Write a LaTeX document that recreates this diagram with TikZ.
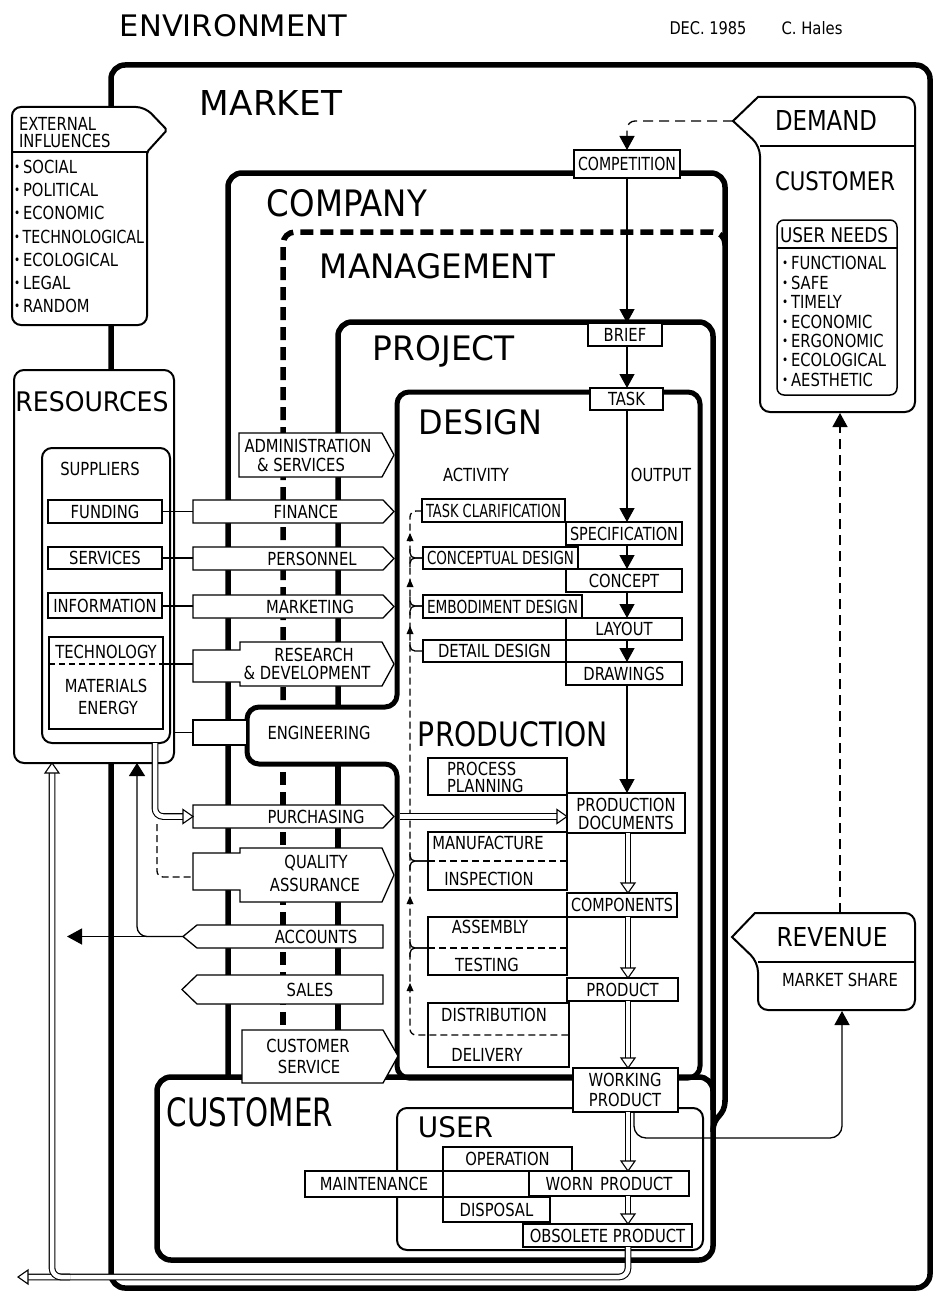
\documentclass[tikz,border=0pt]{standalone}
\usepackage{graphicx}
\usepackage{fontspec}
\setmainfont{DejaVu Sans}
\newfontfamily\condf[FakeStretch=0.82]{DejaVu Sans}
\usetikzlibrary{arrows.meta}
\newcommand\T[3]{\resizebox{#1pt}{#2pt}{#3}}
\newcommand\fitw[2]{\sbox0{#2}\ifdim\wd0>#1pt\relax\resizebox{#1pt}{\height}{#2}\else\usebox0\fi}
\newcommand\lblfont{\condf\fontsize{18}{20}\selectfont}
\newcommand\bul{\raisebox{2.5pt}{\scalebox{0.7}{\textbullet}}\hspace{3pt}}
\newcommand\bx[7][]{\pgfmathsetmacro\bxw{(#5)-(#3)-8}\node[bxs,minimum width={(#5)-(#3)},minimum height={(#6)-(#4)},#1] (#2) at ({((#3)+(#5))/2},{((#4)+(#6))/2}) {\fitw{\bxw}{#7}};}
\tikzset{
 bxs/.style={draw, line width=1.3pt, fill=white, inner sep=0pt, outer sep=0pt, font=\lblfont, text height=13pt, text depth=0pt},
 lbl/.style={inner sep=0pt, outer sep=0pt, font=\lblfont, text height=13pt, text depth=0pt},
 ttl/.style={inner sep=0pt, outer sep=0pt},
 heavy/.style={line width=5.5pt},
 med/.style={line width=2pt},
 tl/.style={line width=1.3pt},
 fshape/.style={draw, line width=1.3pt, fill=white},
 farrow/.style={-{Triangle[width=15pt,length=14pt]}},
 hollow/.style={line width=1.1pt, double, double distance=4.5pt},
 hd/.pic={\draw[line width=1.1pt, fill=white] (-7,-10) -- (0,0) -- (7,-10) -- cycle;},
 hu/.pic={\draw[line width=1.1pt, fill=white] (-7,10) -- (0,0) -- (7,10) -- cycle;},
 hr/.pic={\draw[line width=1.1pt, fill=white] (-10,-7) -- (0,0) -- (-10,7) -- cycle;},
 hl/.pic={\draw[line width=1.1pt, fill=white] (10,-7) -- (0,0) -- (10,7) -- cycle;},
}
\begin{document}
\begin{tikzpicture}[x=1pt,y=-1pt]
\useasboundingbox (0,0) rectangle (935,1295);
\fill[white] (0,0) rectangle (935,1295);

% ---------- titles
\node[ttl] (env) at (233.5,26) {\T{227}{22}{ENVIRONMENT}};
\node[ttl] (dec) at (708,28.5) {\T{77}{13}{DEC. 1985}};
\node[ttl] (hales) at (812,28.5) {\T{61}{13}{C. Hales}};

% ---------- market
\draw[heavy, rounded corners=14] (111,65) rectangle (930,1288);
\node[ttl] (market) at (271,102.5) {\T{142}{25}{MARKET}};

% ---------- company / management / project
\draw[heavy, rounded corners=14] (228,1077) -- (228,173) -- (725,173) -- (725,1102);
\draw[heavy] (725,1100) .. controls (725,1118) and (713,1114) .. (713,1132);
\draw[heavy, dash pattern=on 13pt off 7pt, rounded corners=12] (283,700) -- (283,232) -- (725,232) -- (725,248);
\draw[heavy, dash pattern=on 13pt off 7pt] (283,772) -- (283,1030);
\draw[heavy, rounded corners=14] (338,707) -- (338,322) -- (713,322) -- (713,1110);
\draw[heavy] (338,764) -- (338,1030);
\node[ttl] (company) at (347,203) {\T{160}{27}{COMPANY}};
\node[ttl] (mgmt) at (437.5,266) {\T{235}{25}{MANAGEMENT}};
\node[ttl] (project) at (444,351) {\T{142}{25}{PROJECT}};

% ---------- design / production
\fill[white] (250,710) rectangle (395,761);
\draw[line width=5pt, rounded corners=12] (590,392) -- (397,392) -- (397,707) -- (247,707) -- (247,764) -- (397,764) -- (397,1078) -- (700,1078) -- (700,392) -- (663,392);
\node[ttl] (design) at (480.5,422.5) {\T{123}{25}{DESIGN}};
\node[ttl] (production) at (513,734.5) {\T{190}{25}{PRODUCTION}};

% ---------- customer / user
\draw[heavy, rounded corners=14] (157,1077) rectangle (713,1260);
\node[ttl] (customer) at (250,1112.5) {\T{166}{29}{CUSTOMER}};
\draw[med, rounded corners=10] (397,1108) rectangle (703,1250);
\node[ttl] (user) at (455.5,1127.5) {\T{75}{21}{USER}};

% ---------- external influences
\draw[med, fill=white] (12,200) [rounded corners=9] -- (12,107) -- (145,107) [rounded corners=2] -- (167,130) -- (147,152) [rounded corners=9] -- (147,325) -- (12,325) -- cycle;
\draw[med] (12,152) -- (147,152);
\node[lbl, anchor=west] (ext1) at (19,124) {EXTERNAL};
\node[lbl, anchor=west] (ext2) at (19,141) {INFLUENCES};
\node[lbl, anchor=west] (ei1) at (14,167) {\bul SOCIAL};
\node[lbl, anchor=west] (ei2) at (14,190) {\bul POLITICAL};
\node[lbl, anchor=west] (ei3) at (14,213) {\bul ECONOMIC};
\node[lbl, anchor=west] (ei4) at (14,237) {\fitw{130}{\bul TECHNOLOGICAL}};
\node[lbl, anchor=west] (ei5) at (14,260) {\bul ECOLOGICAL};
\node[lbl, anchor=west] (ei6) at (14,283) {\bul LEGAL};
\node[lbl, anchor=west] (ei7) at (14,306) {\bul RANDOM};

% ---------- resources
\bx[med, rounded corners=10]{res}{14}{370}{174}{763}{}
\node[ttl] (resT) at (92,402) {\T{153}{20}{RESOURCES}};
\bx[med, rounded corners=10]{sup}{42}{448}{170}{743}{}
\node[lbl] (supT) at (100,469) {SUPPLIERS};
\bx{fund}{48}{500}{162}{523}{FUNDING}
\bx{serv}{48}{547}{162}{569}{SERVICES}
\bx{info}{48}{593}{162}{618}{INFORMATION}
\bx{tech}{49}{637}{163}{729}{}
\draw[tl, dash pattern=on 6pt off 4pt] (49,664) -- (163,664);
\node[lbl] (techT) at (106,652) {TECHNOLOGY};
\node[lbl] (matT) at (106,686) {MATERIALS};
\node[lbl] (enT) at (108,708) {ENERGY};

% ---------- function boxes
\draw[fshape] (239,433) -- (382,433) -- (394,455) -- (382,477) -- (239,477) -- cycle;
\node[lbl] (tAd1) at (308,446) {ADMINISTRATION};
\node[lbl] (tAd2) at (301,465) {\& SERVICES};
\draw[fshape] (193,500) -- (383,500) -- (394,511.5) -- (383,523) -- (193,523) -- cycle;
\node[lbl] (tFin) at (306,512) {FINANCE};
\draw[fshape] (193,547) -- (383,547) -- (394,558.5) -- (383,570) -- (193,570) -- cycle;
\node[lbl] (tPer) at (312,558.5) {PERSONNEL};
\draw[fshape] (193,595) -- (383,595) -- (394,606.5) -- (383,618) -- (193,618) -- cycle;
\node[lbl] (tMkt) at (310,606.5) {MARKETING};
\draw[fshape] (193,650) -- (240,650) -- (240,642) -- (382,642) -- (394,664) -- (382,686) -- (240,686) -- (240,682) -- (193,682) -- cycle;
\node[lbl] (tRD1) at (314,655) {RESEARCH};
\node[lbl] (tRD2) at (307,673) {\fitw{130}{\& DEVELOPMENT}};
\bx{engS}{193}{720}{247}{745}{}
\node[lbl] (tEng) at (319,733) {ENGINEERING};
\draw[fshape] (193,805) -- (383,805) -- (394,816.5) -- (383,828) -- (193,828) -- cycle;
\node[lbl] (tPur) at (316,816.5) {PURCHASING};
\draw[fshape] (193,853) -- (240,853) -- (240,848) -- (382,848) -- (394,875) -- (382,902) -- (240,902) -- (240,890) -- (193,890) -- cycle;
\node[lbl] (tQA1) at (316,862) {QUALITY};
\node[lbl] (tQA2) at (315,885) {ASSURANCE};
\draw[fshape] (197,925) -- (383,925) -- (383,948) -- (197,948) -- (183,936.5) -- cycle;
\node[lbl] (tAcc) at (316,937) {ACCOUNTS};
\draw[fshape] (197,975) -- (383,975) -- (383,1004) -- (197,1004) -- (182,989.5) -- cycle;
\node[lbl] (tSal) at (310,989.5) {SALES};
\draw[fshape] (242,1030) -- (383,1030) -- (398,1056) -- (383,1083) -- (242,1083) -- cycle;
\node[lbl] (tCS1) at (308,1046) {CUSTOMER};
\node[lbl] (tCS2) at (309,1067) {SERVICE};

% ---------- supplier connectors
\coordinate (finL) at (193,511.5);
\coordinate (perL) at (193,558);
\coordinate (mktL) at (193,606);
\coordinate (rdL) at (193,664);
\draw[tl] (fund.east) -- (finL);
\draw[tl] (serv.east) -- (perL);
\draw[tl] (info.east |- mktL) -- (mktL);
\draw[tl] (tech.east |- rdL) -- (rdL);
\draw[tl] (res.east |- engS.west) -- (engS.west);

% ---------- top boxes and flow
\coordinate (fx) at (627,0);
\coordinate (hx) at (628,0);
\bx{comp}{574}{150}{680}{178}{COMPETITION}
\bx{brief}{588}{323}{662}{346}{BRIEF}
\bx{task}{590}{388}{663}{410}{TASK}
\node[lbl] (tAct) at (476,475) {ACTIVITY};
\node[lbl] (tOut) at (661,475) {OUTPUT};

% design activities / outputs
\bx{tc}{422}{499}{565}{522}{TASK CLARIFICATION}
\bx{spec}{566}{522}{682}{545}{SPECIFICATION}
\bx{cd}{423}{547}{578}{569}{CONCEPTUAL DESIGN}
\bx{conc}{566}{569}{682}{592}{CONCEPT}
\bx{ed}{423}{595}{582}{618}{EMBODIMENT DESIGN}
\bx{lay}{566}{618}{682}{640}{LAYOUT}
\bx{dd}{423}{640}{566}{662}{DETAIL DESIGN}
\bx{drw}{566}{662}{682}{685}{DRAWINGS}

% production
\bx{pp}{428}{758}{567}{795}{}
\node[lbl, anchor=west] (tPP1) at (447,769) {PROCESS};
\node[lbl, anchor=west] (tPP2) at (447,786) {PLANNING};
\bx{pd}{567}{793}{685}{833}{}
\node[lbl] (tPD1) at (626,805) {PRODUCTION};
\node[lbl] (tPD2) at (626,823) {DOCUMENTS};
\bx{mi}{428}{832}{567}{890}{}
\node[lbl] (tMI1) at (488,843) {MANUFACTURE};
\node[lbl] (tMI2) at (489,879) {INSPECTION};
\bx{cmp}{567}{893}{677}{917}{COMPONENTS}
\bx{at}{428}{917}{567}{975}{}
\node[lbl] (tAT1) at (490,927) {ASSEMBLY};
\node[lbl] (tAT2) at (487,965) {TESTING};
\bx{prod}{567}{978}{678}{1001}{PRODUCT}
\bx{dist}{428}{1003}{569}{1067}{}
\node[lbl] (tDi1) at (494,1015) {DISTRIBUTION};
\node[lbl] (tDi2) at (487,1055) {DELIVERY};
\bx{wp}{573}{1068}{678}{1112}{}
\node[lbl] (tWP1) at (625,1080) {WORKING};
\node[lbl] (tWP2) at (625,1100) {PRODUCT};

% user
\bx{op}{443}{1147}{572}{1171}{OPERATION}
\bx{mnt}{305}{1171}{443}{1197}{MAINTENANCE}
\bx{wrn}{529}{1171}{689}{1196}{WORN\hspace{7pt}PRODUCT}
\bx{dsp}{443}{1197}{550}{1222}{DISPOSAL}
\bx{obs}{523}{1224}{692}{1247}{OBSOLETE PRODUCT}

% feedback loop (dashed)
\draw[tl, dash pattern=on 7pt off 4pt, rounded corners=6] (422,511) -- (410,511) -- (410,1035) -- (569,1035);
\foreach \yy/\xe in {558/423,606/423,861/428,948/428}{
  \draw[tl, rounded corners=5] (410,\yy-9) -- (410,\yy) -- (\xe,\yy);
  \draw[tl, rounded corners=5] (410,\yy+9) -- (410,\yy) -- (\xe,\yy);
}
\draw[tl, rounded corners=5] (410,642) -- (410,651) -- (423,651);
\draw[tl, dash pattern=on 7pt off 4pt] (428,861) -- (567,861);
\draw[tl, dash pattern=on 7pt off 4pt] (428,948) -- (567,948);
\foreach \yy in {537,583,630,900,987}{
  \fill (406.5,\yy+4) -- (410,\yy-4) -- (413.5,\yy+4) -- cycle;
}

% main flow arrows
\coordinate (demT) at (733,121);
\draw[tl, dash pattern=on 10pt off 6pt, rounded corners=8, farrow] (demT) -- (demT -| fx) -- (comp.north -| fx);
\draw[tl, farrow] (comp.south -| fx) -- (brief.north -| fx);
\draw[tl, farrow] (brief.south -| fx) -- (task.north -| fx);
\draw[tl, farrow] (task.south -| fx) -- (spec.north -| fx);
\draw[tl, farrow] (spec.south -| fx) -- (conc.north -| fx);
\draw[tl, farrow] (conc.south -| fx) -- (lay.north -| fx);
\draw[tl, farrow] (lay.south -| fx) -- (drw.north -| fx);
\draw[tl, farrow] (drw.south -| fx) -- (pd.north -| fx);

% hollow flows
\draw[hollow, shorten >=9pt] (pd.south -| hx) -- (cmp.north -| hx); \pic at (cmp.north -| hx) {hd};
\draw[hollow, shorten >=9pt] (cmp.south -| hx) -- (prod.north -| hx); \pic at (prod.north -| hx) {hd};
\draw[hollow, shorten >=9pt] (prod.south -| hx) -- (wp.north -| hx); \pic at (wp.north -| hx) {hd};
\draw[hollow, shorten >=9pt] (wp.south -| hx) -- (wrn.north -| hx); \pic at (wrn.north -| hx) {hd};
\draw[hollow, shorten >=9pt] (wrn.south -| hx) -- (obs.north -| hx); \pic at (obs.north -| hx) {hd};
\coordinate (purT) at (394,816.5);
\draw[hollow, shorten <=6pt, shorten >=9pt] (purT) -- (purT -| pd.west); \pic at (purT -| pd.west) {hr};
\coordinate (outL) at (18,1277);
\coordinate (xh) at (52,0);
\draw[hollow, rounded corners=9, shorten >=9pt] (obs.south -| hx) -- (outL -| hx) -- (outL); \pic at (outL) {hl};
\draw[hollow, rounded corners=9, shorten <=9pt] (xh |- res.south) -- (xh |- outL) -- ++(18,0); \pic at (xh |- res.south) {hu};
\coordinate (xs) at (155,0);
\coordinate (purL) at (193,816.5);
\draw[hollow, rounded corners=8, shorten >=9pt] (xs |- sup.south) -- (xs |- purL) -- (purL); \pic at (purL) {hr};
\coordinate (qaL) at (193,877);
\coordinate (xq) at (157,0);
\draw[tl, dash pattern=on 7pt off 4pt, rounded corners=6] (157,824) -- (xq |- qaL) -- (qaL);

% accounts arrows
\coordinate (accT) at (183,936.5);
\coordinate (accE) at (67,936.5);
\coordinate (xa) at (137,0);
\draw[tl, -{Triangle[width=16pt,length=15pt]}] (accT) -- (accE);
\draw[tl, rounded corners=10, -{Triangle[width=16pt,length=13pt]}] (accT) -- (accT -| xa) -- (xa |- res.south);

% ---------- right side: demand / customer
\draw[med, fill=white] (733,121) -- (758,97) [rounded corners=10] -- (915,97) -- (915,412) -- (760,412) -- (760,146) [sharp corners] -- cycle;
\draw[med] (760,146) -- (915,146);
\node[ttl] (demand) at (826,120) {\T{102}{20}{DEMAND}};
\node[ttl] (custR) at (835,181) {\T{120}{19}{CUSTOMER}};
\bx[rounded corners=7, line width=1.5pt]{un}{777}{220}{897}{395}{}
\draw[line width=1.5pt] (777,248) -- (897,248);
\node[ttl] (unT) at (834,235.5) {\T{108}{15}{USER NEEDS}};
\node[lbl, anchor=west] (un1) at (782,263) {\bul FUNCTIONAL};
\node[lbl, anchor=west] (un2) at (782,283) {\bul SAFE};
\node[lbl, anchor=west] (un3) at (782,302) {\bul TIMELY};
\node[lbl, anchor=west] (un4) at (782,322) {\bul ECONOMIC};
\node[lbl, anchor=west] (un5) at (782,341) {\bul ERGONOMIC};
\node[lbl, anchor=west] (un6) at (782,360) {\bul ECOLOGICAL};
\node[lbl, anchor=west] (un7) at (782,380) {\bul AESTHETIC};

% revenue
\draw[med, fill=white] (732,937) -- (755,913) [rounded corners=10] -- (915,913) -- (915,1010) -- (758,1010) -- (758,962) [sharp corners] -- cycle;
\draw[med] (758,962) -- (915,962);
\node[ttl] (revenue) at (832,937.5) {\T{111}{19}{REVENUE}};
\node[lbl] (share) at (840,980) {MARKET SHARE};
\coordinate (revT) at (840,913);
\coordinate (custB) at (840,413);
\draw[tl, dash pattern=on 10pt off 6pt, farrow] (revT) -- (custB);
\coordinate (xw) at (634,0);
\coordinate (xm) at (842,0);
\coordinate (yb) at (0,1138);
\coordinate (revB) at (842,1011);
\draw[tl, rounded corners=12, farrow] (wp.south -| xw) -- (xw |- yb) -- (xm |- yb) -- (revB);
\end{tikzpicture}
\end{document}
